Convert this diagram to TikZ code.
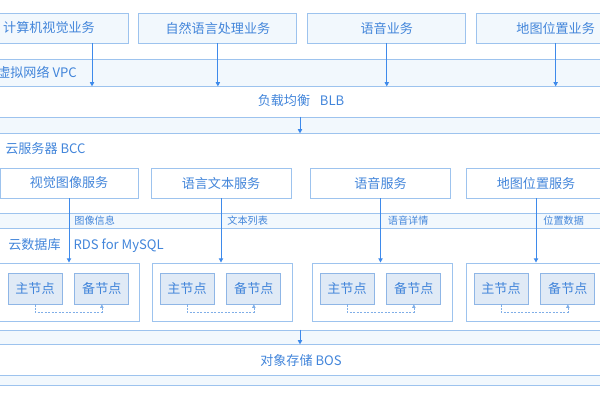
\documentclass[tikz,border=0pt]{standalone}
\usepackage{fontspec}
\setmainfont{Noto Sans CJK SC}
\usepackage{tikz}
\usetikzlibrary{arrows.meta,positioning,calc}
\usepackage{xcolor}
\definecolor{Edge}{HTML}{9DC3EE}
\definecolor{Pale}{HTML}{F2F8FD}
\definecolor{Ink}{HTML}{4285DA}
\definecolor{Wire}{HTML}{3E8AEB}
\definecolor{NodeFill}{HTML}{E0EAF6}
\definecolor{NodeEdge}{HTML}{8FB6E6}
\definecolor{Dots}{HTML}{7FAEE8}
\tikzset{
  mainfont/.style={font=\fontsize{9.3}{11}\selectfont, text=Ink},
  biz/.style={draw=Edge, fill=Pale, line width=0.6pt, mainfont, minimum width=3.95cm, minimum height=0.75cm, inner sep=0pt},
  svc/.style={draw=Edge, fill=white, line width=0.6pt, mainfont, minimum width=3.5cm, minimum height=0.75cm, inner sep=0pt},
  strip/.style={draw=Edge, fill=Pale, line width=0.6pt, minimum width=15.5cm, inner sep=0pt},
  layertitle/.style={mainfont, inner sep=0pt},
  grp/.style={draw=Edge, fill=white, line width=0.6pt, minimum width=3.5cm, minimum height=1.45cm, inner sep=0pt},
  dbnode/.style={draw=NodeEdge, fill=NodeFill, line width=0.6pt, mainfont, minimum width=1.35cm, minimum height=0.775cm, inner sep=0pt},
  datalbl/.style={font=\fontsize{7.2}{9}\selectfont, text=Ink, inner sep=0pt, anchor=west},
  arrow/.style={-{Triangle[length=3pt, width=3pt]}, line width=0.7pt, draw=Wire},
  dotarrow/.style={-{Triangle[length=2.5pt, width=2.5pt]}, line width=0.5pt, draw=Dots, dash pattern=on 1.5pt off 1pt}
}
\begin{document}
\begin{tikzpicture}[x=0.025cm, y=-0.025cm]
\useasboundingbox (0,0) rectangle (600,400);
\clip (0,0) rectangle (600,400);
\node[biz] (biz1) at (49,28) {计算机视觉业务};
\node[biz, right=0.25cm of biz1] (biz2) {自然语言处理业务};
\node[biz, right=0.25cm of biz2] (biz3) {语音业务};
\node[biz, right=0.25cm of biz3] (biz4) {地图位置业务};
\node[strip, minimum height=0.675cm] (vpc) at (300,72.5) {};
\node[layertitle, anchor=west] (vpctitle) at (-3,72.5) {虚拟网络 VPC};
\coordinate (biz1out) at ([xshift=1.075cm]biz1.south);
\draw[arrow] (biz1out) -- (biz1out |- vpc.south);
\draw[arrow] (biz2.south) -- (biz2.south |- vpc.south);
\draw[arrow] (biz3.south) -- (biz3.south |- vpc.south);
\draw[arrow] (biz4.south) -- (biz4.south |- vpc.south);
\node[layertitle] (blbtitle) at (301,101) {负载均衡\hspace{0.75em}BLB};
\node[strip, minimum height=0.4cm] (blb) at (300,125) {};
\draw[arrow] (blb.north) -- (blb.south);
\node[layertitle, anchor=west] (bcctitle) at (5,149) {云服务器 BCC};
\node[svc, minimum width=3.45cm] (svc1) at (69,183) {视觉图像服务};
\node[svc] (svc2) at (221,183) {语言文本服务};
\node[svc] (svc3) at (380.5,183) {语音服务};
\node[svc] (svc4) at (536,183) {地图位置服务};
\node[strip, minimum height=0.375cm] (data) at (300,220.5) {};
\node[layertitle, anchor=west] (rdstitle) at (8,246) {云数据库\quad RDS for MySQL};
\node[grp] (grp1) at (69.5,292) {};
\node[grp] (grp2) at (222,292) {};
\node[grp] (grp3) at (382,292) {};
\node[grp] (grp4) at (536,292) {};
\draw[arrow] (svc1.south) -- node[datalbl, pos=0.35, xshift=5*0.025cm]{图像信息} (svc1.south |- grp1.north);
\draw[arrow] (svc2.south) -- node[datalbl, pos=0.35, xshift=6*0.025cm]{文本列表} (svc2.south |- grp2.north);
\draw[arrow] (svc3.south) -- node[datalbl, pos=0.35, xshift=7*0.025cm]{语音详情} (svc3.south |- grp3.north);
\draw[arrow] (svc4.south) -- node[datalbl, pos=0.35, xshift=7*0.025cm]{位置数据} (svc4.south |- grp4.north);
\node[dbnode] (main1) at (35,288.5) {主节点};
\node[dbnode, right=0.3cm of main1] (spare1) {备节点};
\node[dbnode] (main2) at (187,288.5) {主节点};
\node[dbnode, right=0.3cm of main2] (spare2) {备节点};
\node[dbnode] (main3) at (347,288.5) {主节点};
\node[dbnode, right=0.3cm of main3] (spare3) {备节点};
\node[dbnode] (main4) at (501,288.5) {主节点};
\node[dbnode, right=0.3cm of main4] (spare4) {备节点};
\draw[dotarrow] (main1.south) -- ++(0,8) -| (spare1.south);
\draw[dotarrow] (main2.south) -- ++(0,8) -| (spare2.south);
\draw[dotarrow] (main3.south) -- ++(0,8) -| (spare3.south);
\draw[dotarrow] (main4.south) -- ++(0,8) -| (spare4.south);
\node[strip, minimum height=0.35cm] (bos) at (300,337) {};
\draw[arrow] (bos.north) -- (bos.south);
\node[layertitle] (bostitle) at (301,360) {对象存储 BOS};
\node[strip, minimum height=0.25cm] (bosbase) at (300,380) {};
\end{tikzpicture}
\end{document}
